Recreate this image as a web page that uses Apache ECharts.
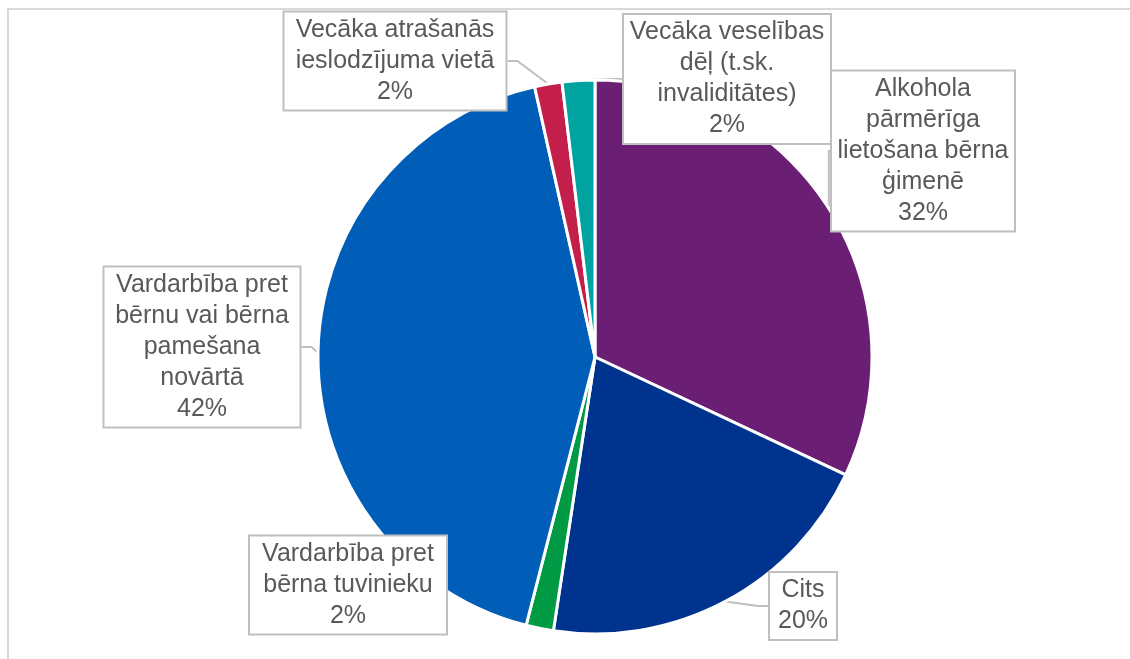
<!DOCTYPE html>
<html>
<head>
<meta charset="utf-8">
<script src="https://cdn.jsdelivr.net/npm/echarts@6/dist/echarts.min.js"></script>
<style>
  html, body { margin: 0; padding: 0; background: #fff; }
  #chart { width: 1130px; height: 659px; }
</style>
</head>
<body>
<div id="chart"></div>
<script>
// kategorijas (pulksteņrādītāja virzienā no augšas)
const categories = [
  'Alkohola\npārmērīga\nlietošana bērna\nģimenē',
  'Cits',
  'Vardarbība pret\nbērna tuvinieku',
  'Vardarbība pret\nbērnu vai bērna\npamešana\nnovārtā',
  'Vecāka atrašanās\nieslodzījuma vietā',
  'Vecāka veselības\ndēļ (t.sk.\ninvaliditātes)'
];
const shares = [32.0, 20.4, 1.6, 42.5, 1.6, 1.9];
const colors = ['#6a1f74', '#00338d', '#009a44', '#005eb8', '#c41f4b', '#00a3a0'];

// etiķešu kastīšu centri un platumi
const labelPos = [[923, 151], [803, 606], [348, 585], [202, 347], [395, 61], [727, 79]];
const labelWidth = [182, 66, 196, 195, 221, 206];

const myChart = echarts.init(document.getElementById('chart'));

const option = {
  backgroundColor: '#fff',
  animation: false,
  graphic: [{
    type: 'rect',
    shape: { x: 8, y: 9, width: 1300, height: 800 },
    style: { fill: 'none', stroke: '#d9d9d9', lineWidth: 2 },
    silent: true
  }],
  series: [{
    type: 'pie',
    center: [595, 357],
    radius: 277,
    startAngle: 90,
    clockwise: true,
    percentPrecision: 0,
    avoidLabelOverlap: false,
    itemStyle: { borderColor: '#fff', borderWidth: 3 },
    label: {
      show: true,
      formatter: '{b}\n{d}%',
      fontFamily: 'Liberation Sans, Arial, sans-serif',
      fontSize: 25,
      lineHeight: 31,
      color: '#595959',
      align: 'center',
      backgroundColor: '#fff',
      borderColor: '#bfbfbf',
      borderWidth: 2,
      padding: [2, 0]
    },
    labelLine: {
      show: true,
      length: 10,
      length2: 10,
      lineStyle: { color: '#bfbfbf', width: 2 }
    },
    labelLayout: function (params) {
      const p = labelPos[params.dataIndex];
      return { x: p[0], y: p[1], align: 'center', verticalAlign: 'middle' };
    },
    data: categories.map((name, i) => ({
      name: name,
      value: shares[i],
      itemStyle: { color: colors[i] },
      label: { width: labelWidth[i] }
    }))
  }]
};

myChart.setOption(option);
</script>
</body>
</html>
